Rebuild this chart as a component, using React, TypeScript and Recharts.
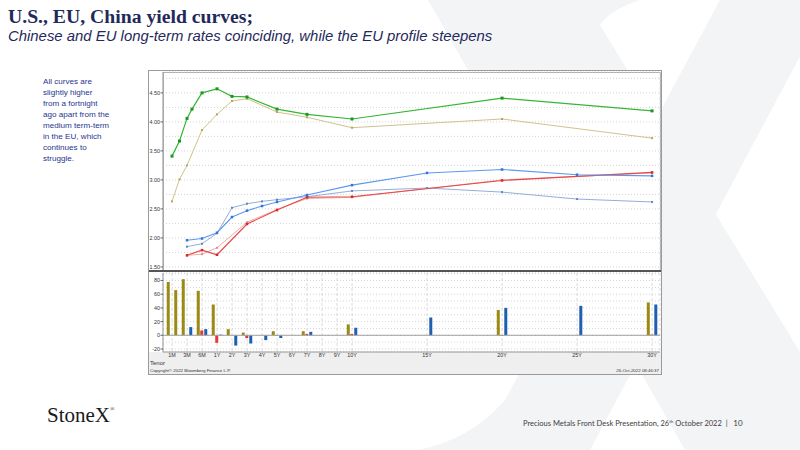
import React from 'react';
import { LineChart, Line, BarChart, Bar, XAxis, YAxis, CartesianGrid, ReferenceLine } from 'recharts';

// ---- Yield curves (top panel) ----
const curveTenors = ['1M', '2M', '3M', '4M', '6M', '1Y', '2Y', '3Y', '4Y', '5Y', '7Y', '10Y', '15Y', '20Y', '25Y', '30Y'];
const curvePositions = [-2, -1.5, -1, -2 / 3, 0, 1, 2, 3, 4, 5, 7, 10, 15, 20, 25, 30];
const usNow = [3.41, 3.67, 4.06, 4.22, 4.5, 4.57, 4.44, 4.43, null, 4.22, 4.13, 4.05, null, 4.41, null, 4.19];
const usPrev = [2.63, 3.01, 3.25, null, 3.86, 4.13, 4.36, 4.4, null, 4.17, 4.08, 3.9, null, 4.05, null, 3.72];
const euNow = [null, null, 1.96, null, 1.99, 2.09, 2.36, 2.47, 2.55, 2.62, 2.74, 2.91, 3.12, 3.18, 3.09, 3.07];
const euPrev = [null, null, 1.85, null, 1.9, 2.08, 2.52, 2.59, 2.63, 2.66, 2.71, 2.81, 2.86, 2.79, 2.67, 2.62];
const cnNow = [null, null, 1.7, null, 1.79, 1.71, null, 2.24, null, 2.48, 2.7, 2.71, null, 2.99, null, 3.13];
const cnPrev = [null, null, 1.7, null, 1.72, 1.83, null, 2.27, null, 2.49, 2.68, 2.7, null, 3.0, null, 3.12];

// ---- Changes in bp (bottom panel) ----
const barTenors = ['1M', '2M', '3M', '6M', '1Y', '2Y', '3Y', '4Y', '5Y', '7Y', '10Y', '15Y', '20Y', '25Y', '30Y'];
const barPositions = [-2, -1.5, -1, 0, 1, 2, 3, 4, 5, 7, 10, 15, 20, 25, 30];
const usChange = [78, 66, 82, 65, 45, 9, 4, null, 6, 6, 16, null, 37, null, 48];
const cnChange = [null, null, null, 7, -11, null, -4, null, -1, 2, 2, null, -1, null, 1];
const euChange = [null, null, 12, 9, 1, -15, -12, -7, -4, 5, 11, 26, 40, 43, 45];

// ---- Axes ----
const axisLabels = ['1M', '3M', '6M', '1Y', '2Y', '3Y', '4Y', '5Y', '6Y', '7Y', '8Y', '9Y', '10Y', '15Y', '20Y', '25Y', '30Y'];
const axisPositions = [-2, -1, 0, 1, 2, 3, 4, 5, 6, 7, 8, 9, 10, 15, 20, 25, 30];
const yieldTicks = [1.5, 1.75, 2, 2.25, 2.5, 2.75, 3, 3.25, 3.5, 3.75, 4, 4.25, 4.5, 4.75];
const changeTicks = [-20, -10, 0, 10, 20, 30, 40, 50, 60, 70, 80, 90];
const xDomain: [number, number] = [-2.6, 30.53];

const curveRows = curveTenors.map((t, i) => ({
  tenor: t,
  pos: curvePositions[i],
  usNow: usNow[i],
  usPrev: usPrev[i],
  euNow: euNow[i],
  euPrev: euPrev[i],
  cnNow: cnNow[i],
  cnPrev: cnPrev[i],
}));

const barRows = barTenors.map((t, i) => ({
  tenor: t,
  pos: barPositions[i],
  us: usChange[i],
  cn: cnChange[i],
  eu: euChange[i],
}));

const tickFont = 'Liberation Sans, Arial, sans-serif';

const squareDot = (fill: string, size: number) => (props: any) => {
  const { cx, cy, index } = props;
  if (cx == null || cy == null || Number.isNaN(cy)) return <g key={`e${index}`} />;
  return <rect key={`d${index}`} x={cx - size / 2} y={cy - size / 2} width={size} height={size} fill={fill} />;
};

const makeYTick = (isLabelled: (v: number) => boolean, fmt: (v: number) => string) => (props: any) => {
  const { x, y, payload } = props;
  const v = payload.value as number;
  if (!isLabelled(v)) return <g />;
  return (
    <g>
      <line x1={x - 2.5} x2={x} y1={y} y2={y} stroke="#444" strokeWidth={0.8} />
      <text x={x - 3} y={y} dy={1.9} textAnchor="end" fontSize={5.4} fill="#333" fontFamily={tickFont}>
        {fmt(v)}
      </text>
    </g>
  );
};

const yieldTick = makeYTick((v) => Math.abs(v * 2 - Math.round(v * 2)) < 1e-6, (v) => v.toFixed(2));
const changeTick = makeYTick((v) => v % 20 === 0, (v) => String(v));

const BAR_SIZE = 1;
const BAR_GAP = 1;
const barShape = (slot: number, shift: number, fill: string) => (props: any) => {
  const { x, y, width, height, index } = props;
  if (x == null || y == null || height == null || !height) return <g key={`b${index}`} />;
  const w = width || BAR_SIZE;
  const centre = x + w / 2 - (slot - 1) * (w + BAR_GAP);
  const top = Math.min(y, y + height);
  return <rect key={`b${index}`} x={centre + shift - 1.5} y={top} width={3} height={Math.abs(height)} fill={fill} />;
};

const leftNote = ['All curves are', 'slightly higher', 'from a fortnight', 'ago apart from the', 'medium term-term', 'in the EU, which', 'continues to', 'struggle.'];

export default function App() {
  return (
    <div
      style={{
        position: 'absolute',
        left: 0,
        top: 0,
        width: 800,
        height: 450,
        background: '#ffffff',
        overflow: 'hidden',
        fontFamily: 'Liberation Sans, Arial, sans-serif',
      }}
    >
      <svg width={800} height={450} style={{ position: 'absolute', left: 0, top: 0 }}>
        <path d="M428,0 L640,0 Q610,10 600,25 L860,450 L685,450 Z" fill="#f3f4f6" />
        <path d="M720,0 L830,0 L590,450 L418,450 Q470,440 505,400 Z" fill="#f3f4f6" />
      </svg>

      <div
        style={{
          position: 'absolute',
          left: 8,
          top: 5,
          fontFamily: 'Liberation Serif, Times New Roman, serif',
          fontWeight: 700,
          fontSize: 19.7,
          color: '#1f2a5a',
          whiteSpace: 'nowrap',
        }}
      >
        U.S., EU, China yield curves;
      </div>
      <div
        style={{
          position: 'absolute',
          left: 8,
          top: 27.5,
          fontStyle: 'italic',
          fontSize: 14.9,
          color: '#1f2a5a',
          whiteSpace: 'nowrap',
        }}
      >
        Chinese and EU long-term rates coinciding, while the EU profile steepens
      </div>

      <div style={{ position: 'absolute', left: 43, top: 75.5, fontSize: 8.1, lineHeight: '11px', color: '#1f3591' }}>
        {leftNote.map((l) => (
          <div key={l} style={{ whiteSpace: 'nowrap' }}>
            {l}
          </div>
        ))}
      </div>

      {/* chart frame */}
      <div
        style={{
          position: 'absolute',
          left: 148,
          top: 70,
          width: 514,
          height: 305,
          boxSizing: 'border-box',
          border: '1px solid #9a9a9a',
          background: '#ffffff',
        }}
      />
      <div style={{ position: 'absolute', left: 149, top: 352, width: 512, height: 22, background: '#efefef' }} />
      <div
        style={{
          position: 'absolute',
          left: 163,
          top: 72,
          width: 498,
          height: 200,
          boxSizing: 'border-box',
          border: '1px solid #b0b0b0',
        }}
      />

      <div style={{ position: 'absolute', left: 148, top: 70 }}>
        <LineChart width={514} height={203} data={curveRows} margin={{ top: 2, right: 2, bottom: 2, left: 0 }}>
          <CartesianGrid vertical={false} stroke="#c8c8c8" strokeDasharray="1 2" strokeWidth={0.8} />
          <CartesianGrid horizontal={false} stroke="#d2d2d2" strokeDasharray="3 2" strokeWidth={0.8} />
          <XAxis
            type="number"
            dataKey="pos"
            domain={xDomain}
            ticks={axisPositions}
            allowDataOverflow
            height={0}
            tick={false}
            tickLine={false}
            axisLine={false}
          />
          <YAxis
            type="number"
            domain={[1.43, 4.86]}
            ticks={yieldTicks}
            allowDataOverflow
            width={15}
            tickSize={0}
            tickMargin={0}
            tickLine={false}
            axisLine={{ stroke: '#999' }}
            tick={yieldTick}
            interval={0}
          />
          <Line dataKey="usPrev" stroke="#cfc38d" strokeWidth={1} dot={squareDot('#b5a65c', 2)} connectNulls isAnimationActive={false} />
          <Line dataKey="euPrev" stroke="#93afd9" strokeWidth={1} dot={squareDot('#5f86c2', 2)} connectNulls isAnimationActive={false} />
          <Line dataKey="cnPrev" stroke="#f2a9a9" strokeWidth={1} dot={squareDot('#ea8c8c', 2)} connectNulls isAnimationActive={false} />
          <Line dataKey="cnNow" stroke="#e84646" strokeWidth={1.1} dot={squareDot('#d42a2a', 2.5)} connectNulls isAnimationActive={false} />
          <Line dataKey="euNow" stroke="#5d97f0" strokeWidth={1.1} dot={squareDot('#3674dc', 2.5)} connectNulls isAnimationActive={false} />
          <Line dataKey="usNow" stroke="#36b536" strokeWidth={1.2} dot={squareDot('#1a991a', 3)} connectNulls isAnimationActive={false} />
        </LineChart>
      </div>

      <div style={{ position: 'absolute', left: 149, top: 270, width: 512, height: 2, background: '#555' }} />

      <div style={{ position: 'absolute', left: 148, top: 271 }}>
        <BarChart width={514} height={104} data={barRows} margin={{ top: 2, right: 2, bottom: 0, left: 0 }} barGap={BAR_GAP}>
          <CartesianGrid vertical={false} stroke="#c8c8c8" strokeDasharray="1 2" strokeWidth={0.8} />
          <CartesianGrid horizontal={false} stroke="#d2d2d2" strokeDasharray="3 2" strokeWidth={0.8} />
          <XAxis
            type="number"
            dataKey="pos"
            domain={xDomain}
            ticks={axisPositions}
            allowDataOverflow
            interval={0}
            height={23}
            tickSize={1.5}
            tickMargin={0}
            tickLine={false}
            axisLine={{ stroke: '#999' }}
            tickFormatter={(v: number) => axisLabels[axisPositions.indexOf(v)] ?? ''}
            tick={{ fontSize: 5.4, fill: '#333', fontFamily: tickFont }}
          />
          <YAxis
            type="number"
            domain={[-24.4, 91]}
            ticks={changeTicks}
            allowDataOverflow
            width={15}
            tickSize={0}
            tickMargin={0}
            tickLine={false}
            axisLine={{ stroke: '#999' }}
            tick={changeTick}
            interval={0}
          />
          <ReferenceLine y={0} stroke="#a0a0a0" strokeWidth={1} />
          <Bar dataKey="us" barSize={BAR_SIZE} fill="#9b8a14" shape={barShape(0, -3.5, '#9b8a14')} isAnimationActive={false} />
          <Bar dataKey="cn" barSize={BAR_SIZE} fill="#e53935" shape={barShape(1, 0, '#e53935')} isAnimationActive={false} />
          <Bar dataKey="eu" barSize={BAR_SIZE} fill="#1f5fb0" shape={barShape(2, 4, '#1f5fb0')} isAnimationActive={false} />
        </BarChart>
      </div>

      <div style={{ position: 'absolute', left: 150, top: 359.5, fontSize: 6, color: '#333' }}>Tenor</div>
      <div style={{ position: 'absolute', left: 150, top: 368, fontSize: 4.4, color: '#333', whiteSpace: 'nowrap' }}>
        Copyright© 2022 Bloomberg Finance L.P.
      </div>
      <div style={{ position: 'absolute', left: 560, width: 99, top: 368, fontSize: 4.4, color: '#333', textAlign: 'right', whiteSpace: 'nowrap' }}>
        26-Oct-2022 08:46:37
      </div>

      {/* footer */}
      <div
        style={{
          position: 'absolute',
          left: 47,
          top: 403,
          fontFamily: 'Liberation Serif, Times New Roman, serif',
          fontSize: 21,
          color: '#1a1a1a',
          whiteSpace: 'nowrap',
        }}
      >
        StoneX<span style={{ fontSize: 6, verticalAlign: 'top', position: 'relative', top: 3 }}>®</span>
      </div>
      <div
        style={{
          position: 'absolute',
          left: 523,
          top: 418,
          fontFamily: 'Lato, Open Sans, sans-serif',
          fontSize: 7.5,
          color: '#404040',
          whiteSpace: 'nowrap',
        }}
      >
        Precious Metals Front Desk Presentation, 26<sup style={{ fontSize: 4.5 }}>th</sup> October 2022&nbsp;&nbsp;|&nbsp;&nbsp;&nbsp;
        <span style={{ fontSize: 8 }}>10</span>
      </div>
    </div>
  );
}
